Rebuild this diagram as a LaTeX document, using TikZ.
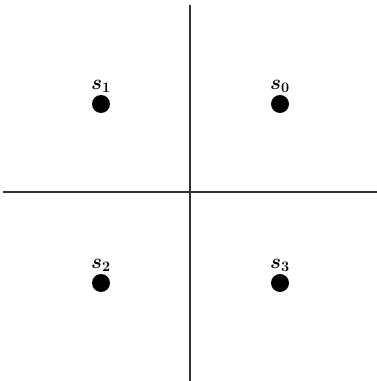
\documentclass[tikz,border=0pt]{standalone}
\usepackage{amsmath,amssymb}
\usetikzlibrary{positioning}

\tikzset{
  sdot/.style={circle, fill=black, inner sep=0pt, minimum size=18pt},
  slabel/.style={inner sep=0pt, font=\huge\boldmath},
  axisline/.style={line width=1.4pt, black!80}
}

\begin{document}
\begin{tikzpicture}[x=1pt, y=1pt]
  \useasboundingbox (0,0) rectangle (377,381);

  % Axes
  \coordinate (top) at (190,376);
  \coordinate (bot) at (190,0);
  \coordinate (lft) at (3,189);
  \coordinate (rgt) at (377,189);
  \draw[axisline] (top) -- (bot);
  \draw[axisline] (lft) -- (rgt);

  % Points
  \node[sdot] (s0) at (280,277) {};
  \node[sdot] (s1) at (101,277) {};
  \node[sdot] (s2) at (101,98) {};
  \node[sdot] (s3) at (280,98) {};

  % Labels
  \node[slabel, above=2pt of s0] (l0) {$s_0$};
  \node[slabel, above=2pt of s1] (l1) {$s_1$};
  \node[slabel, above=2pt of s2] (l2) {$s_2$};
  \node[slabel, above=2pt of s3] (l3) {$s_3$};
\end{tikzpicture}
\end{document}
